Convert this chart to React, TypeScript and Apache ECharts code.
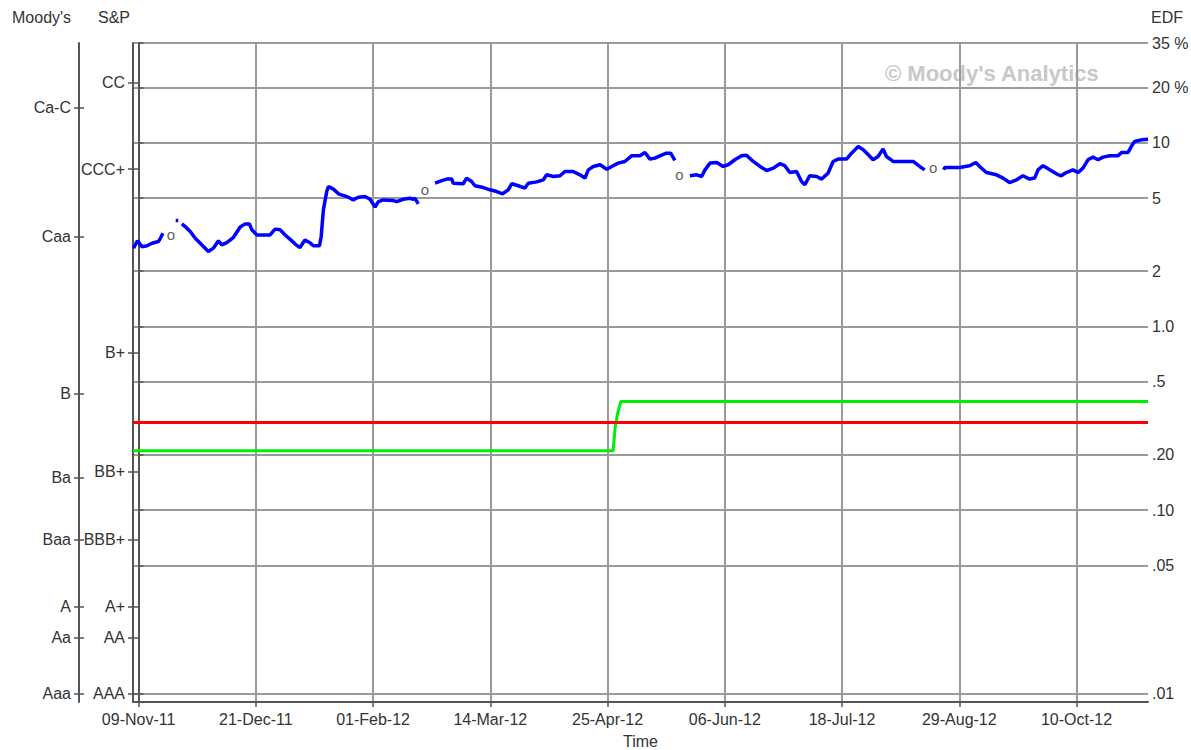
import { useEffect, useRef } from "react";
import * as echarts from "echarts";

const FONT = '"Liberation Sans", Arial, sans-serif';
const TEXT = "#333333";
const FRAME = "#555555";
const GRID = "#9a9a9a";

// x axis: days since 09-Nov-2011
const xMinDay = -2;
const xMaxDay = 361.6;
const xTickDays = [0, 42, 84, 126, 168, 210, 252, 294, 336];
const xTickLabels = ["09-Nov-11", "21-Dec-11", "01-Feb-12", "14-Mar-12", "25-Apr-12", "06-Jun-12", "18-Jul-12", "29-Aug-12", "10-Oct-12"];

// EDF (right, log) axis
const edfMin = 0.009;
const edfMax = 35;
const edfTicks = [35, 20, 10, 5, 2, 1, 0.5, 0.2, 0.1, 0.05, 0.01];
const edfTickLabels = ["35 %", "20 %", "10", "5", "2", "1.0", ".5", ".20", ".10", ".05", ".01"];

// rating scales mapped onto EDF
const moodysLabels = ["Ca-C", "Caa", "B", "Ba", "Baa", "A", "Aa", "Aaa"];
const moodysEdf = [15.5, 3.09, 0.432, 0.1505, 0.0692, 0.0297, 0.0202, 0.01];
const spLabels = ["CC", "CCC+", "B+", "BB+", "BBB+", "A+", "AA", "AAA"];
const spEdf = [21.2, 7.2, 0.723, 0.1615, 0.0692, 0.0297, 0.0202, 0.01];

// blue EDF line (null = gap)
const blueDays = [
  -1.8, -0.4, 1.2, 3.0, 4.8, 7.1, 8.0, 8.7, 10,
  13.3, 14.2, 14.8,
  15.5, 16.7, 18.5, 20.3, 22.7, 25.0, 26.8, 28.6, 29.8, 31.6, 34.0, 36.4, 38.2, 39.7, 40.6, 42.4, 47.1, 48.9, 50.7, 52.5, 54.3, 56.1, 57.8, 59.6, 61.4, 62.6, 64.8, 65.4, 66.2, 67.4, 68.0, 69.8, 71.6, 74.6, 76.9, 78.7, 81.1, 82.9, 84.7, 85.9, 87.7, 91.3, 92.5, 94.8, 97.2, 98.4, 99.0, 100.2, 103,
  106.2, 108.6, 110.4, 112.2, 112.7, 116.3, 117.5, 119.3, 120.5, 123.5, 125.9, 128.3, 130.4, 132.4, 133.7, 136.0, 138.4, 139.6, 142.6, 145.0, 146.2, 148.6, 151.0, 152.7, 155.7, 158.1, 159.9, 161.1, 162.9, 165.3, 167.7, 169.5, 171.8, 174.2, 176.6, 179.6, 181.4, 183.2, 185.0, 186.7, 189.1, 190.6, 192.1, 195,
  197.5, 199.9, 201.7, 202.9, 204.7, 207.1, 209.4, 211.2, 213.6, 216.0, 217.8, 220.2, 222.6, 225.0, 227.4, 229.7, 231.5, 233.3, 235.7, 237.5, 238.7, 240.4, 242.9, 244.7, 247.0, 248.8, 250.6, 253.6, 255.4, 257.8, 259.6, 261.4, 263.1, 264.9, 266.7, 267.9, 270.3, 273.9, 277.5, 279.8, 281.6, 285,
  288.4, 288.8, 294.1, 297.7, 299.9, 301.3, 303.7, 307.3, 309.7, 312.0, 314.5, 316.8, 319.2, 321.0, 322.2, 324.0, 326.4, 328.8, 330.5, 332.3, 334.7, 336.5, 338.3, 340.1, 341.9, 343.7, 345.5, 347.9, 350.8, 352.1, 354.4, 355.6, 356.8, 359.2, 361.6,
];
const blueEdf = [
  2.67, 2.93, 2.72, 2.75, 2.84, 2.9, 3.06, 3.22, null,
  3.78, 3.78, null,
  3.62, 3.5, 3.29, 3.02, 2.78, 2.56, 2.67, 2.93, 2.78, 2.86, 3.06, 3.48, 3.62, 3.62, 3.36, 3.15, 3.15, 3.39, 3.36, 3.15, 2.98, 2.81, 2.69, 2.96, 2.86, 2.75, 2.75, 3.08, 4.32, 5.43, 5.79, 5.6, 5.28, 5.1, 4.89, 5.06, 5.1, 4.93, 4.47, 4.79, 4.89, 4.85, 4.79, 4.93, 4.99, 4.93, 4.99, 4.65, null,
  6.03, 6.23, 6.35, 6.35, 6.03, 5.99, 6.42, 6.16, 5.84, 5.71, 5.55, 5.43, 5.28, 5.55, 5.99, 5.84, 5.67, 6.03, 6.13, 6.29, 6.7, 6.56, 6.62, 6.98, 6.98, 6.7, 6.43, 7.13, 7.44, 7.6, 7.19, 7.44, 7.76, 7.92, 8.5, 8.5, 8.86, 8.16, 8.26, 8.5, 8.79, 8.79, 8.02, null,
  6.62, 6.7, 6.56, 7.13, 7.76, 7.82, 7.44, 7.6, 8.09, 8.5, 8.55, 7.92, 7.44, 7.07, 7.28, 7.7, 7.51, 6.89, 6.98, 6.16, 5.91, 6.62, 6.56, 6.35, 6.84, 7.92, 8.16, 8.16, 8.79, 9.55, 9.17, 8.61, 8.09, 8.43, 9.25, 8.43, 7.92, 7.92, 7.92, 7.44, 7.13, null,
  7.13, 7.34, 7.34, 7.51, 7.82, 7.44, 6.89, 6.7, 6.43, 6.08, 6.29, 6.62, 6.35, 6.43, 7.13, 7.51, 7.13, 6.78, 6.62, 6.89, 7.13, 6.89, 7.28, 8.09, 8.36, 8.09, 8.36, 8.5, 8.5, 8.86, 8.86, 9.55, 10.17, 10.39, 10.48,
];

const redDays = [-2, 361.6];
const redEdf = [0.3, 0.3];
const greenDays = [-2, 170.0, 170.7, 171.5, 172.7, 361.6];
const greenEdf = [0.21, 0.21, 0.28, 0.33, 0.39, 0.39];

// small "o" annotations at the gaps
const oDays = [11.6, 102.6, 193.7, 284.6];
const oEdf = [3.15, 5.55, 6.76, 7.34];

const pairs = (xs: number[], ys: (number | null)[]) =>
  xs.map((x, i) => [x, ys[i] === null ? "-" : ys[i]]);

const logLookup = (vals: number[], labels: string[]) => (v: number) => {
  let best = -1;
  let bd = Infinity;
  vals.forEach((t, i) => {
    const d = Math.abs(Math.log10(v) - Math.log10(t));
    if (d < bd) {
      bd = d;
      best = i;
    }
  });
  return bd < 0.02 ? labels[best] : "";
};

const dayLabel = (v: number) => {
  const i = xTickDays.findIndex((d) => Math.abs(d - v) < 0.01);
  return i >= 0 ? xTickLabels[i] : "";
};

const labelStyle = { color: TEXT, fontFamily: FONT, fontSize: 16 };

function ratingAxis(vals: number[], labels: string[], offset: number) {
  return {
    type: "log",
    logBase: 10,
    min: edfMin,
    max: edfMax,
    position: "left",
    offset,
    axisLine: { show: true, lineStyle: { color: FRAME, width: 2 } },
    axisTick: { show: true, customValues: vals, length: 5, lineStyle: { color: FRAME, width: 1.5 } },
    axisLabel: { show: true, customValues: vals, formatter: logLookup(vals, labels), margin: 8, ...labelStyle },
    splitLine: { show: false },
  };
}

function insideTicks(vals: number[], offset: number) {
  return {
    type: "log",
    logBase: 10,
    min: edfMin,
    max: edfMax,
    position: "left",
    offset,
    axisLine: { show: false },
    axisTick: { show: true, inside: true, customValues: vals, length: 5, lineStyle: { color: FRAME, width: 1.5 } },
    axisLabel: { show: false },
    splitLine: { show: false },
  };
}

export default function App() {
  const ref = useRef<HTMLDivElement>(null);
  useEffect(() => {
    if (!ref.current) return;
    const chart = echarts.init(ref.current, null, { renderer: "svg" });
    chart.setOption({
      animation: false,
      backgroundColor: "#ffffff",
      grid: { left: 133, right: 43, top: 43, bottom: 48, containLabel: false, outerBoundsMode: "none" },
      xAxis: {
        type: "value",
        min: xMinDay,
        max: xMaxDay,
        name: "Time",
        nameLocation: "middle",
        nameGap: 31,
        nameTextStyle: { ...labelStyle },
        axisLine: { show: true, onZero: false, lineStyle: { color: FRAME, width: 2 } },
        axisTick: { show: true, customValues: xTickDays, length: 5, lineStyle: { color: FRAME, width: 1.5 } },
        axisLabel: { customValues: xTickDays, formatter: dayLabel, margin: 9, ...labelStyle },
        splitLine: { show: true, lineStyle: { color: GRID, width: 2 } },
      },
      yAxis: [
        {
          type: "log",
          logBase: 10,
          min: edfMin,
          max: edfMax,
          position: "right",
          axisLine: { show: true, lineStyle: { color: FRAME, width: 2 } },
          axisTick: { show: true, customValues: edfTicks, length: 5, lineStyle: { color: FRAME, width: 1.5 } },
          axisLabel: { show: true, customValues: edfTicks, formatter: logLookup(edfTicks, edfTickLabels), margin: 4, ...labelStyle },
          splitLine: { show: true, lineStyle: { color: GRID, width: 2 } },
        },
        ratingAxis(spEdf, spLabels, 0),
        ratingAxis(moodysEdf, moodysLabels, 54),
        insideTicks(moodysEdf, 54),
        insideTicks(spEdf, 0),
      ],
      series: [
        {
          type: "line",
          yAxisIndex: 0,
          data: pairs(greenDays, greenEdf),
          symbol: "none",
          lineStyle: { color: "#00ee00", width: 3 },
          silent: true,
        },
        {
          type: "line",
          yAxisIndex: 0,
          data: pairs(redDays, redEdf),
          symbol: "none",
          lineStyle: { color: "#ff0000", width: 3 },
          silent: true,
        },
        {
          type: "line",
          yAxisIndex: 0,
          data: pairs(blueDays, blueEdf),
          symbol: "none",
          connectNulls: false,
          lineStyle: { color: "#0000ff", width: 3.5 },
          silent: true,
        },
        {
          type: "scatter",
          yAxisIndex: 0,
          data: pairs(oDays, oEdf),
          symbolSize: 1,
          itemStyle: { color: "rgba(0,0,0,0)" },
          label: { show: true, position: "inside", formatter: "o", color: TEXT, fontFamily: FONT, fontSize: 15 },
          silent: true,
        },
      ],
      graphic: [
        { type: "text", left: 12, top: 9, z: 10, style: { text: "Moody's", fill: TEXT, font: `16px ${FONT}` } },
        { type: "text", left: 98, top: 9, z: 10, style: { text: "S&P", fill: TEXT, font: `16px ${FONT}` } },
        { type: "text", right: 8, top: 9, z: 10, style: { text: "EDF", fill: TEXT, font: `16px ${FONT}` } },
        { type: "text", left: 885, top: 62, z: -1, style: { text: "© Moody's Analytics", fill: "#c8c8c8", font: `bold 22px ${FONT}` } },
      ],
    });
    return () => chart.dispose();
  }, []);
  return <div ref={ref} style={{ position: "fixed", left: 0, top: 0, width: 1191, height: 750 }} />;
}
